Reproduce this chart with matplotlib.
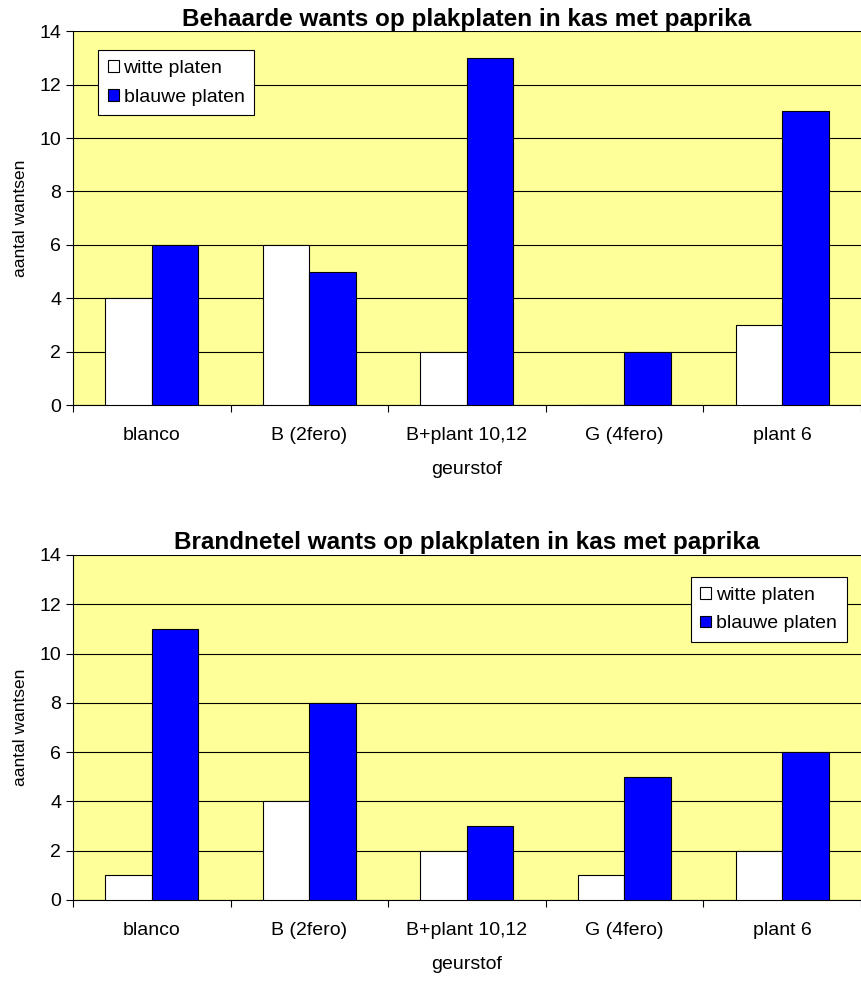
import numpy as np
import matplotlib.pyplot as plt

plt.rcParams['font.family'] = ['Liberation Sans', 'DejaVu Sans']

categories = ['blanco', 'B (2fero)', 'B+plant 10,12', 'G (4fero)', 'plant 6']
behaard_wit = [4, 6, 2, 0, 3]
behaard_blauw = [6, 5, 13, 2, 11]
brandnetel_wit = [1, 4, 2, 1, 2]
brandnetel_blauw = [11, 8, 3, 5, 6]

titles = ['Behaarde wants op plakplaten in kas met paprika',
          'Brandnetel wants op plakplaten in kas met paprika']

fig = plt.figure(figsize=(8.61, 9.93), dpi=100)
ax1 = fig.add_axes([0.0848, 0.592, 0.915, 0.3766])
ax2 = fig.add_axes([0.0848, 0.0937, 0.915, 0.3474])

x = np.arange(len(categories))
w = 0.295

for ax, wit, blauw, title, loc in [
        (ax1, behaard_wit, behaard_blauw, titles[0], (0.032, 0.949)),
        (ax2, brandnetel_wit, brandnetel_blauw, titles[1], (0.982, 0.936))]:
    ax.set_facecolor('#FFFF99')
    ax.bar(x - w / 2, wit, w, color='white', edgecolor='black', linewidth=0.8,
           label='witte platen', zorder=3)
    ax.bar(x + w / 2, blauw, w, color='#0000FF', edgecolor='black', linewidth=0.8,
           label='blauwe platen', zorder=3)
    ax.set_xlim(-0.5, len(categories) - 0.5)
    ax.set_ylim(0, 14)
    ax.set_yticks(range(0, 15, 2))
    ax.yaxis.grid(True, color='black', linewidth=0.8, zorder=0)
    ax.set_axisbelow(True)
    ax.set_xticks(np.arange(len(categories) + 1) - 0.5)
    ax.set_xticklabels([])
    ax.set_xticks(x, minor=True)
    ax.set_xticklabels(categories, minor=True, fontsize=14)
    ax.tick_params(axis='x', which='minor', length=0, pad=16)
    ax.tick_params(axis='x', which='major', length=5, direction='out')
    ax.tick_params(axis='y', labelsize=14, length=5, direction='out')
    ax.set_xlabel('geurstof', fontsize=14, labelpad=12)
    ax.set_ylabel('aantal wantsen', fontsize=12.5, labelpad=8)
    ax.set_title(title, fontsize=17.5, fontweight='bold', pad=4)
    for s in ['top', 'right']:
        ax.spines[s].set_visible(False)
    if loc[0] < 0.5:
        anchor = 'upper left'
    else:
        anchor = 'upper right'
    leg = ax.legend(loc=anchor, bbox_to_anchor=loc, fontsize=14, frameon=True,
                    fancybox=False, edgecolor='black', framealpha=1,
                    handlelength=0.55, handleheight=0.55, handletextpad=0.25,
                    borderpad=0.5, labelspacing=0.6, borderaxespad=0)
    leg.get_frame().set_linewidth(0.8)

fig.savefig('out.png', dpi=100)
